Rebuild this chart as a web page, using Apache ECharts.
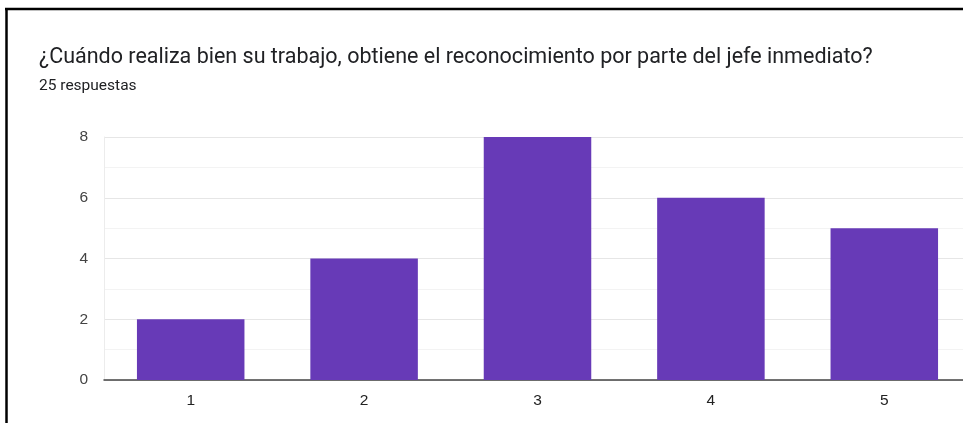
<!DOCTYPE html>
<html>
<head>
<meta charset="utf-8">
<script src="https://cdn.jsdelivr.net/npm/echarts@6/dist/echarts.min.js"></script>
<style>
  html, body { margin: 0; padding: 0; background: #fff; overflow: hidden; }
  #chart { width: 980px; height: 423px; }
</style>
</head>
<body>
<div id="chart"></div>
<script>
// Survey answer scale and the number of responses for each option
const categories = ['1', '2', '3', '4', '5'];
const counts = [2, 4, 8, 6, 5];
const yTicks = [0, 2, 4, 6, 8];

const titleText = '¿Cuándo realiza bien su trabajo, obtiene el reconocimiento por parte del jefe inmediato?';
const subtitleText = '25 respuestas';

const chart = echarts.init(document.getElementById('chart'), null, { renderer: 'canvas' });

chart.setOption({
  animation: false,
  backgroundColor: '#ffffff',
  title: {
    text: titleText,
    subtext: subtitleText,
    left: 34,
    top: 42,
    itemGap: 9,
    textStyle: {
      fontFamily: 'Roboto',
      fontSize: 21.5,
      fontWeight: 'normal',
      color: '#202124'
    },
    subtextStyle: {
      fontFamily: 'Roboto',
      fontSize: 15.5,
      color: '#202124'
    }
  },
  graphic: [
    {
      type: 'line',
      shape: { x1: 5, y1: 9, x2: 980, y2: 9 },
      style: { stroke: '#000', lineWidth: 2.5 }
    },
    {
      type: 'line',
      shape: { x1: 6.5, y1: 8, x2: 6.5, y2: 423 },
      style: { stroke: '#000', lineWidth: 2.5 }
    }
  ],
  grid: {
    left: 104,
    top: 137,
    width: 867,
    height: 243,
    containLabel: false
  },
  xAxis: {
    type: 'category',
    data: categories,
    axisLine: { show: true, lineStyle: { color: '#444', width: 1.5 } },
    axisTick: { show: false },
    axisLabel: {
      margin: 13,
      fontFamily: 'Liberation Sans',
      fontSize: 15.5,
      color: '#222'
    }
  },
  yAxis: {
    type: 'value',
    min: yTicks[0],
    max: yTicks[yTicks.length - 1],
    interval: 2,
    axisLine: { show: true, lineStyle: { color: '#ececec', width: 1 } },
    axisTick: { show: false },
    axisLabel: {
      margin: 16,
      fontFamily: 'Liberation Sans',
      fontSize: 15.5,
      color: '#444'
    },
    splitLine: { show: true, lineStyle: { color: '#e6e6e6', width: 1 } },
    minorTick: { show: false, splitNumber: 2 },
    minorSplitLine: { show: true, lineStyle: { color: '#f3f3f3', width: 1 } }
  },
  series: [
    {
      type: 'bar',
      data: counts,
      barWidth: '62%',
      itemStyle: { color: '#673ab7' }
    }
  ]
});
</script>
</body>
</html>
